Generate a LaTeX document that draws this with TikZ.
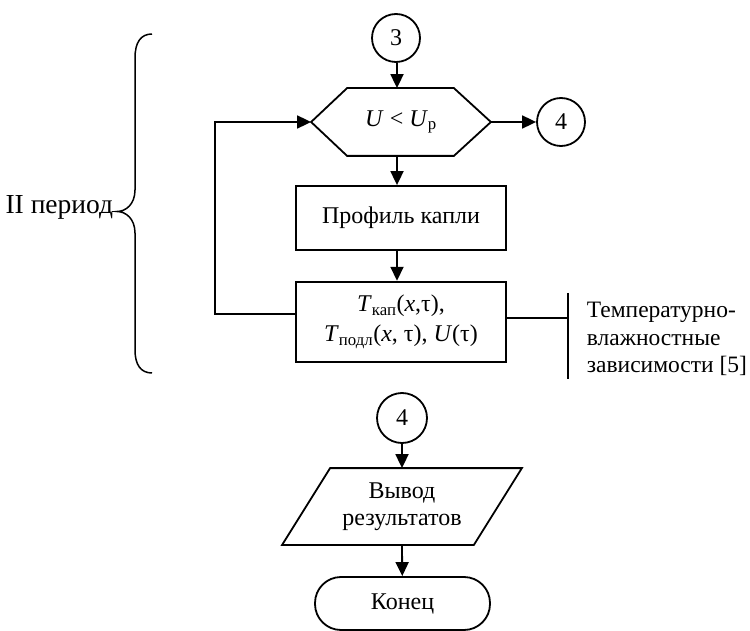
\documentclass[tikz,border=0pt]{standalone}
\usepackage{fontspec}
\setmainfont{Liberation Serif}
\usetikzlibrary{arrows.meta}
\newcommand\mysub[1]{\textsubscript{#1}}
\begin{document}
\begin{tikzpicture}[x=1pt,y=-1pt, line width=1.8pt,
  >={Triangle[length=14pt,width=13pt]},
  font=\fontsize{24}{27}\selectfont,
  conn/.style={circle, draw, minimum size=48pt, inner sep=0pt},
  proc/.style={draw, minimum width=210pt, inner sep=0pt, align=center},
  ghost/.style={inner sep=0pt, align=center},
  txt/.style={inner sep=0pt, anchor=base west, font=\fontsize{23.5}{27}\selectfont}]
\useasboundingbox (0,0) rectangle (750,631);

% upper part
\node[conn] (c3) at (396,38) {3};
\node[ghost, minimum width=178pt, minimum height=66pt] (hex) at (401,122) {\textit{U} < \textit{U}\mysub{р}};
\draw (hex.west) -- ([xshift=36pt]hex.north west) -- ([xshift=-37pt]hex.north east) -- (hex.east)
  -- ([xshift=-37pt]hex.south east) -- ([xshift=36pt]hex.south west) -- cycle;
\node[conn] (c4a) at (561,122) {4};
\node[proc, minimum height=64pt] (b1) at (401,218) {Профиль капли};
\node[proc, minimum height=80pt] (b2) at (401,321.7) {\textit{T}\mysub{кап}(\textit{x},τ),\\[3pt] \textit{T}\mysub{подл}(\textit{x}, τ), \textit{U}(τ)};

\coordinate (ax) at (397,0);
\draw[->] (c3.south -| ax) -- (hex.north -| ax);
\draw[->] (hex.south -| ax) -- (b1.north -| ax);
\draw[->] (b1.south -| ax) -- (b2.north -| ax);
\draw[->] (hex.east) -- (c4a);

\coordinate (lp) at (215,314);
\draw[->] (b2.west |- lp) -- (lp) -- (lp |- hex.west) -- (hex.west);

\coordinate (bm) at (568,318);
\coordinate (bt) at (568,293);
\coordinate (bb) at (568,379);
\draw (b2.east |- bm) -- (bm);
\draw (bt) -- (bb);
\node[txt] (n1) at (586,317) {Температурно-};
\node[txt] (n2) at (586,345) {влажностные};
\node[txt] (n3) at (586,372) {зависимости [5]};

% brace
\draw[line width=1.5pt] (152,34) .. controls (141,34) and (135,42) .. (135,58) -- (135,190)
  .. controls (135,204) and (126,211.5) .. (117,211.5)
  .. controls (126,211.5) and (135,219) .. (135,233) -- (135,350)
  .. controls (135,365) and (141,373) .. (152,373);
\node[anchor=base east, inner sep=0pt, font=\fontsize{27.5}{30}\selectfont] (per) at (114,214) {II период};

% lower part
\node[conn, minimum size=50pt] (c4b) at (402,418) {4};
\node[ghost, minimum width=238pt, minimum height=75pt] (out) at (402,506.5) {Вывод\\результатов};
\draw (out.south west) -- ([xshift=48pt]out.north west) -- (out.north east)
  -- ([xshift=-48pt]out.south east) -- cycle;
\node[draw, rounded corners=26pt, minimum width=175pt, minimum height=53pt, inner sep=0pt] (fin) at (402.5,603.5) {Конец};

\draw[->] (c4b) -- (out.north);
\draw[->] (out.south) -- (fin);
\end{tikzpicture}
\end{document}
